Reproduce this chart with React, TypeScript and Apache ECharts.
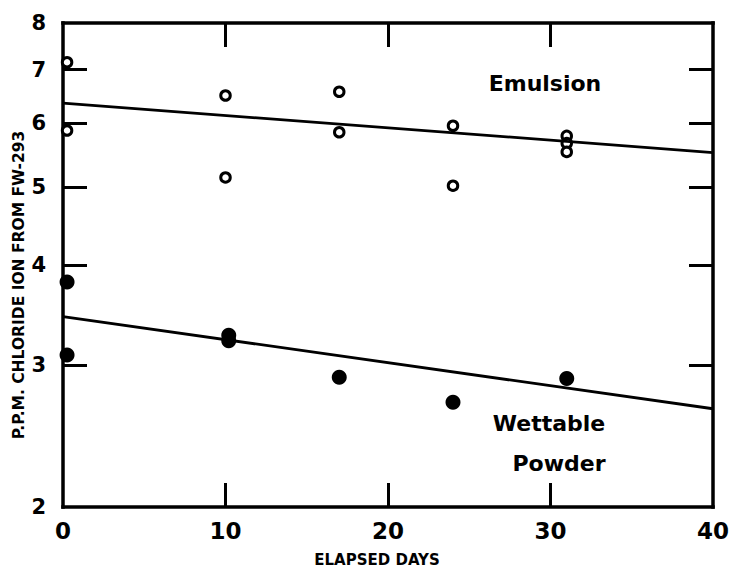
import React, { useEffect, useRef } from "react";
import * as echarts from "echarts";

// ---- data ----
const xTicks = [0, 10, 20, 30, 40];
const yTickLabels = [2, 3, 4, 5, 6, 7, 8];
const yInnerTicks = [3, 4, 5, 6, 7];

const emulsionDays = [0.25, 0.25, 10, 10, 17, 17, 24, 24, 31, 31, 31];
const emulsionPpm = [7.15, 5.88, 6.5, 5.14, 6.57, 5.85, 5.96, 5.02, 5.79, 5.67, 5.53];

const wettableDays = [0.25, 0.25, 10.2, 10.2, 17, 24, 31];
const wettablePpm = [3.81, 3.09, 3.27, 3.22, 2.9, 2.7, 2.89];

const fitDays = [0, 40];
const emulsionFit = [6.36, 5.52];
const wettableFit = [3.45, 2.65];

const yTitle = "P.P.M. CHLORIDE ION FROM FW-293";
const xTitle = "ELAPSED DAYS";

const FONT = "DejaVu Sans";

export default function App() {
  const ref = useRef<HTMLDivElement>(null);
  useEffect(() => {
    if (!ref.current) return;
    const chart = echarts.init(ref.current, null, { renderer: "svg" });
    const zip = (xs: number[], ys: number[]) => xs.map((x, i) => [x, ys[i]]);
    const axisLine = () => ({ show: true, lineStyle: { color: "#000", width: 3.5, cap: "square" } });
    const tickStyle = () => ({ color: "#000", width: 3 });
    const innerX = xTicks.slice(1, -1);
    const logTicks = yInnerTicks.map((v) => Math.log2(v));
    const logLabels = yTickLabels.map((v) => Math.log2(v));
    const yMin = Math.log2(yTickLabels[0]);
    const yMax = Math.log2(yTickLabels[yTickLabels.length - 1]);

    chart.setOption({
      animation: false,
      backgroundColor: "#fff",
      grid: { left: 63, right: 23, top: 23, bottom: 64 },
      xAxis: [
        {
          type: "value",
          position: "bottom",
          min: 0,
          max: 40,
          interval: 10,
          axisLine: axisLine(),
          axisTick: { show: true, inside: true, length: 24, lineStyle: tickStyle(), customValues: innerX },
          axisLabel: {
            color: "#000",
            fontSize: 23,
            fontWeight: "bold",
            fontFamily: FONT,
            margin: 12,
            customValues: xTicks,
          },
          splitLine: { show: false },
        },
        {
          type: "value",
          position: "top",
          min: 0,
          max: 40,
          interval: 10,
          axisLine: axisLine(),
          axisTick: { show: true, inside: true, length: 24, lineStyle: tickStyle(), customValues: innerX },
          axisLabel: { show: false },
          splitLine: { show: false },
        },
      ],
      yAxis: [
        {
          type: "log",
          logBase: 2,
          min: yTickLabels[0],
          max: yTickLabels[yTickLabels.length - 1],
          show: false,
          splitLine: { show: false },
        },
        {
          type: "value",
          position: "left",
          min: yMin,
          max: yMax,
          axisLine: axisLine(),
          axisTick: { show: true, inside: true, length: 24, lineStyle: tickStyle(), customValues: logTicks },
          axisLabel: {
            color: "#000",
            fontSize: 21,
            fontWeight: "bold",
            fontFamily: FONT,
            margin: 17,
            customValues: logLabels,
            formatter: (v: number) => String(Math.round(Math.pow(2, v))),
          },
          splitLine: { show: false },
        },
        {
          type: "value",
          position: "right",
          min: yMin,
          max: yMax,
          axisLine: axisLine(),
          axisTick: { show: true, inside: true, length: 24, lineStyle: tickStyle(), customValues: logTicks },
          axisLabel: { show: false },
          splitLine: { show: false },
        },
      ],
      series: [
        {
          type: "line",
          xAxisIndex: 0,
          yAxisIndex: 0,
          data: zip(fitDays, emulsionFit),
          showSymbol: false,
          lineStyle: { color: "#000", width: 2.8 },
        },
        {
          type: "line",
          xAxisIndex: 0,
          yAxisIndex: 0,
          data: zip(fitDays, wettableFit),
          showSymbol: false,
          lineStyle: { color: "#000", width: 2.8 },
        },
        {
          type: "scatter",
          xAxisIndex: 0,
          yAxisIndex: 0,
          data: zip(emulsionDays, emulsionPpm),
          symbol: "circle",
          symbolSize: 9.5,
          clip: false,
          itemStyle: { color: "#fff", borderColor: "#000", borderWidth: 3, opacity: 1 },
        },
        {
          type: "scatter",
          xAxisIndex: 0,
          yAxisIndex: 0,
          data: zip(wettableDays, wettablePpm),
          symbol: "circle",
          symbolSize: 15,
          clip: true,
          itemStyle: { color: "#000", opacity: 1 },
        },
      ],
      graphic: [
        {
          type: "text",
          x: 545,
          y: 83,
          style: { text: "Emulsion", font: `bold 22px "${FONT}"`, fill: "#000", textAlign: "center", textVerticalAlign: "middle" },
        },
        {
          type: "text",
          x: 549,
          y: 423,
          style: { text: "Wettable", font: `bold 22px "${FONT}"`, fill: "#000", textAlign: "center", textVerticalAlign: "middle" },
        },
        {
          type: "text",
          x: 559,
          y: 463,
          style: { text: "Powder", font: `bold 22px "${FONT}"`, fill: "#000", textAlign: "center", textVerticalAlign: "middle" },
        },
        {
          type: "text",
          x: 19,
          y: 285,
          rotation: Math.PI / 2,
          style: { text: yTitle, font: `bold 15.5px "${FONT}"`, fill: "#000", textAlign: "center", textVerticalAlign: "middle" },
        },
        {
          type: "text",
          x: 377,
          y: 560,
          style: { text: xTitle, font: `bold 15px "${FONT}"`, fill: "#000", textAlign: "center", textVerticalAlign: "middle" },
        },
      ],
    });
    return () => chart.dispose();
  }, []);
  return (
    <div
      ref={ref}
      style={{ position: "fixed", left: 0, top: 0, width: 736, height: 571, background: "#fff" }}
    />
  );
}
